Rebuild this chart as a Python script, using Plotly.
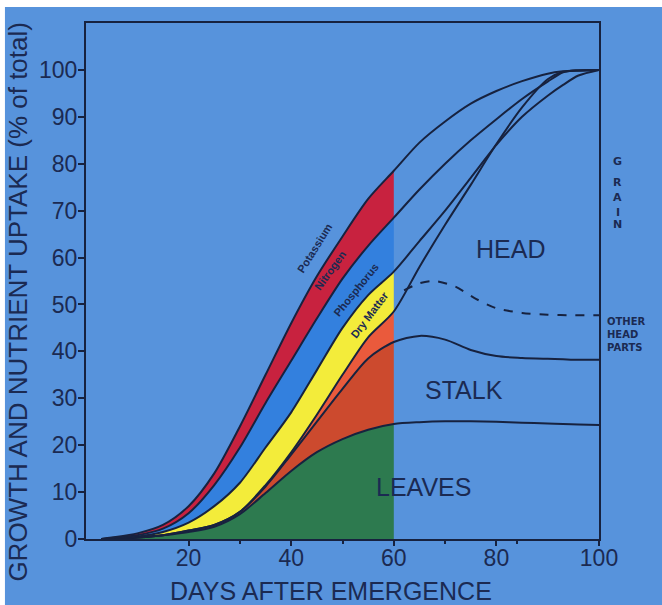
import plotly.graph_objects as go

# ---------------- data ----------------
days = [3, 5, 10, 15, 20, 25, 30, 35, 40, 45, 50, 55, 60,
        65, 70, 75, 80, 85, 90, 93, 96, 100]

potassium = [0, 0.3, 1.2, 3, 7, 14, 24, 35, 46, 56, 64.5, 72.5, 78.5,
             84.5, 89, 92.8, 95.5, 97.6, 99.2, 99.7, 99.9, 100]
nitrogen = [0, 0.2, 0.8, 2.2, 5.5, 11.5, 19.5, 29, 38, 47, 55.5, 62.5, 68.5,
            74.5, 80, 85, 89.5, 93.8, 97.5, 99.5, 99.9, 100]
phosphorus = [0, 0.1, 0.5, 1.5, 3.5, 7, 12, 19.5, 27, 36, 45, 52, 57,
              63.5, 70, 77, 84, 90, 94.5, 96.8, 98.8, 100]
dry_matter = [0, 0, 0.3, 0.8, 1.8, 3, 5.8, 11.5, 18.5, 26.5, 35, 43, 48.5,
              58, 67, 75.5, 84.2, 92, 98, 99.6, 99.9, 100]
stalk = [0, 0, 0.3, 0.8, 1.8, 3, 5.8, 11.2, 18, 25, 32, 38.5, 42,
         43.3, 42.5, 40.3, 39, 38.6, 38.4, 38.3, 38.2, 38.2]
leaves = [0, 0, 0.3, 0.8, 1.5, 2.6, 5.3, 9.8, 14.5, 18.5, 21.3, 23.3, 24.5,
          24.9, 25.1, 25.1, 25, 24.8, 24.6, 24.5, 24.4, 24.3]

ohp_days = [62, 65, 68, 72, 76, 80, 85, 90, 95, 100]
other_head_parts = [53, 54.5, 55, 53.8, 51.2, 49.2, 48.2, 47.8, 47.7, 47.7]

cut_day = 60

x_ticks = [20, 40, 60, 80, 100]
y_ticks = [0, 10, 20, 30, 40, 50, 60, 70, 80, 90, 100]

# ---------------- styles ----------------
BG = "#5793dc"
INK = "#17223f"
TXT = "#1b2a52"
GREEN = "#2d7a4f"
DARK_OR = "#cc4a2e"
LIGHT_OR = "#ea5a3c"
YELLOW = "#f3ec3a"
BLUE = "#3380de"
RED = "#c8223f"
FONT = "Liberation Sans, Arial, sans-serif"

fig = go.Figure()

cut = days.index(cut_day)
d_fill = days[:cut + 1]

# baseline for the stacked fills
fig.add_trace(go.Scatter(x=d_fill, y=[0] * len(d_fill), mode="lines",
                         line=dict(width=0), hoverinfo="skip", showlegend=False))

for vals, col in [(leaves, GREEN), (stalk, DARK_OR), (dry_matter, LIGHT_OR),
                  (phosphorus, YELLOW), (nitrogen, BLUE), (potassium, RED)]:
    fig.add_trace(go.Scatter(x=d_fill, y=vals[:cut + 1], mode="lines",
                             line=dict(width=0, shape="spline", smoothing=0.8),
                             fill="tonexty", fillcolor=col,
                             hoverinfo="skip", showlegend=False))

for vals in [leaves, stalk, dry_matter, phosphorus, nitrogen, potassium]:
    fig.add_trace(go.Scatter(x=days, y=vals, mode="lines",
                             line=dict(color=INK, width=2, shape="spline", smoothing=0.8),
                             hoverinfo="skip", showlegend=False))

fig.add_trace(go.Scatter(x=ohp_days, y=other_head_parts, mode="lines",
                         line=dict(color=INK, width=2, dash="dash", shape="spline", smoothing=0.8),
                         hoverinfo="skip", showlegend=False))

ann = []
# region labels
for txt, x, y in [("HEAD", 82.8, 61.8), ("STALK", 73.7, 31.8), ("LEAVES", 65.7, 11.1)]:
    ann.append(dict(text=txt, x=x, y=y, xref="x", yref="y", showarrow=False,
                    xanchor="center", yanchor="middle",
                    font=dict(family=FONT, size=25, color=TXT)))
# band labels
for txt, x, y, ang in [("Potassium", 44.6, 62, -58), ("Nitrogen", 47.6, 57.4, -54),
                       ("Phosphorus", 52.6, 53.1, -51), ("Dry Matter", 55.2, 47.8, -53)]:
    ann.append(dict(text="<b>" + txt + "</b>", x=x, y=y, xref="x", yref="y",
                    showarrow=False, textangle=ang, xanchor="center", yanchor="middle",
                    font=dict(family=FONT, size=11, color=TXT)))
# GRAIN (stacked letters)
for ch, y in zip("GRAIN", [80.4, 76.1, 72.9, 69.7, 67.0]):
    ann.append(dict(text="<b>" + ch + "</b>", x=1.037, y=y, xref="paper", yref="y",
                    xanchor="center", yanchor="middle", showarrow=False,
                    font=dict(family="DejaVu Sans", size=11, color=TXT)))
# OTHER HEAD PARTS
ann.append(dict(text="<b>OTHER<br>HEAD<br>PARTS</b>", x=1.012, y=43.7, xref="paper", yref="y",
                xanchor="left", yanchor="middle", align="left", showarrow=False,
                font=dict(family="DejaVu Sans", size=10, color=TXT)))
# axis titles
ann.append(dict(text="GROWTH AND NUTRIENT UPTAKE (% of total)", x=-0.1326, y=0.46,
                xref="paper", yref="paper", textangle=-90, showarrow=False,
                xanchor="center", yanchor="middle",
                font=dict(family=FONT, size=26, color=TXT)))
ann.append(dict(text="DAYS AFTER EMERGENCE", x=0.4776, y=-0.1008,
                xref="paper", yref="paper", showarrow=False,
                xanchor="center", yanchor="middle",
                font=dict(family=FONT, size=25, color=TXT)))

fig.update_layout(
    width=662, height=605,
    margin=dict(l=86, r=63, t=23, b=66),
    paper_bgcolor="white",
    plot_bgcolor=BG,
    showlegend=False,
    annotations=ann,
    shapes=[dict(type="rect", xref="paper", yref="paper",
                 x0=-0.158, x1=1.3, y0=-0.3, y1=1.031,
                 fillcolor=BG, line=dict(width=0), layer="below")],
    xaxis=dict(range=[0, 100], tickvals=x_ticks, ticks="outside", ticklen=5,
               tickwidth=2, tickcolor=INK, showgrid=False, zeroline=False,
               showline=True, linecolor=INK, linewidth=2, mirror=True,
               ticklabelstandoff=-8,
               tickfont=dict(family=FONT, size=23, color=TXT),
               minor=dict(tickvals=[30, 50, 70, 84], ticks="outside", ticklen=3,
                          tickcolor=INK, tickwidth=2)),
    yaxis=dict(range=[0, 110], tickvals=y_ticks, ticks="outside", ticklen=6,
               tickwidth=2, tickcolor=INK, showgrid=False, zeroline=False,
               showline=True, linecolor=INK, linewidth=2, mirror=True,
               ticklabelstandoff=-4,
               tickfont=dict(family=FONT, size=23, color=TXT)),
)

# remove the page's default 8 px body margin so the figure fills the window
fig.write_html("out.html", config={"displayModeBar": False},
               post_script="document.body.style.margin='0';")
